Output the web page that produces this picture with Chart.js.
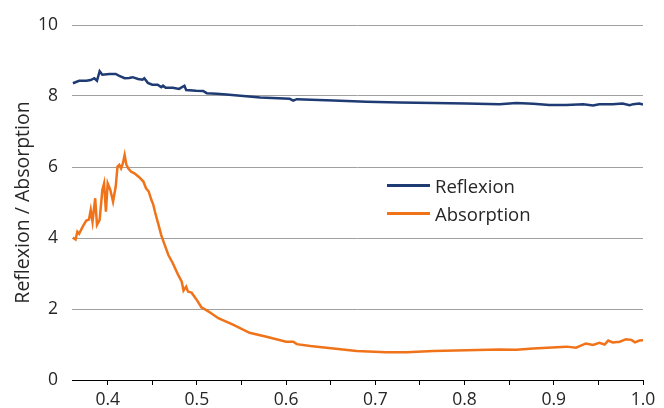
<!DOCTYPE html>
<html><head><meta charset="utf-8">
<script src="https://cdn.jsdelivr.net/npm/chart.js@4/dist/chart.umd.min.js"></script>
<style>
html,body{margin:0;padding:0;background:#fff;}
#wrap{position:relative;width:664px;height:408px;}
#legend{position:absolute;left:387px;top:171px;font-family:"Open Sans",sans-serif;font-size:18.5px;color:#262626;}
.item{display:flex;align-items:center;height:28px;white-space:nowrap;}
.sw{width:43px;height:3px;margin-right:5px;}
</style></head><body>
<div id="wrap"><canvas id="c" width="664" height="408"></canvas>
<div id="legend"></div></div>
<script>
const seriesNames = ["Reflexion", "Absorption"];
const seriesColors = ["#1f3b73", "#f0731a"];
const xTickValues = [0.4,0.45,0.5,0.55,0.6,0.65,0.7,0.75,0.8,0.85,0.9,0.95,1.0];
const yAxisTitle = "Reflexion / Absorption";

const reflexionX = [0.361,0.368,0.376,0.381,0.385,0.388,0.391,0.394,0.402,0.409,0.413,0.419,0.424,0.428,0.434,0.439,0.441,0.445,0.450,0.456,0.460,0.462,0.465,0.473,0.480,0.486,0.488,0.499,0.507,0.511,0.522,0.533,0.552,0.571,0.578,0.604,0.608,0.612,0.653,0.690,0.727,0.765,0.802,0.839,0.858,0.877,0.895,0.914,0.933,0.944,0.951,0.966,0.977,0.985,0.989,0.996,1.000];
const reflexionY = [8.36,8.43,8.43,8.45,8.50,8.43,8.70,8.60,8.62,8.62,8.57,8.50,8.51,8.53,8.48,8.46,8.50,8.37,8.32,8.32,8.25,8.29,8.23,8.23,8.20,8.29,8.17,8.15,8.14,8.08,8.06,8.04,8.00,7.96,7.95,7.92,7.87,7.91,7.87,7.84,7.82,7.80,7.79,7.77,7.80,7.78,7.75,7.75,7.77,7.73,7.77,7.77,7.79,7.74,7.77,7.79,7.76];

const absorptionX = [0.361,0.364,0.366,0.368,0.372,0.376,0.379,0.381,0.383,0.386,0.388,0.391,0.394,0.396,0.398,0.400,0.403,0.406,0.409,0.411,0.413,0.415,0.417,0.419,0.421,0.423,0.426,0.430,0.435,0.440,0.443,0.446,0.449,0.451,0.453,0.455,0.457,0.460,0.464,0.468,0.473,0.479,0.483,0.485,0.488,0.490,0.494,0.500,0.505,0.511,0.516,0.524,0.541,0.559,0.578,0.600,0.608,0.612,0.627,0.653,0.679,0.712,0.735,0.765,0.802,0.839,0.858,0.877,0.914,0.925,0.936,0.944,0.951,0.957,0.961,0.966,0.974,0.981,0.987,0.991,0.996,1.000];
const absorptionY = [4.01,3.96,4.18,4.12,4.32,4.49,4.52,4.79,4.46,5.12,4.37,4.51,5.35,5.54,4.74,5.54,5.35,5.02,5.45,6.01,6.06,5.96,6.10,6.34,6.06,5.96,5.87,5.82,5.72,5.59,5.40,5.31,5.07,4.95,4.74,4.55,4.37,4.08,3.80,3.52,3.29,2.96,2.77,2.52,2.63,2.49,2.46,2.25,2.05,1.96,1.88,1.74,1.55,1.33,1.22,1.08,1.08,1.01,0.96,0.89,0.82,0.78,0.78,0.82,0.84,0.86,0.85,0.89,0.94,0.91,1.03,0.99,1.05,1.00,1.11,1.06,1.08,1.15,1.13,1.06,1.11,1.12];

const toPts = (xs, ys) => xs.map((x, i) => ({x: x, y: ys[i]}));
const TICKFONT = {family: "'Open Sans', sans-serif", size: 17.5};
const TITLEFONT = {family: "'Open Sans', sans-serif", size: 19.5};

// HTML legend
const lg = document.getElementById('legend');
seriesNames.forEach((n, i) => {
  const d = document.createElement('div'); d.className = 'item';
  const s = document.createElement('span'); s.className = 'sw'; s.style.background = seriesColors[i];
  const t = document.createElement('span'); t.textContent = n;
  d.appendChild(s); d.appendChild(t); lg.appendChild(d);
});

new Chart(document.getElementById('c'), {
  type: 'line',
  data: {
    datasets: [
      {label: seriesNames[0], data: toPts(reflexionX, reflexionY), borderColor: seriesColors[0], borderWidth: 2.5, pointRadius: 0, tension: 0, fill: false},
      {label: seriesNames[1], data: toPts(absorptionX, absorptionY), borderColor: seriesColors[1], borderWidth: 2.5, pointRadius: 0, tension: 0, fill: false}
    ]
  },
  options: {
    responsive: false,
    devicePixelRatio: 1,
    animation: false,
    layout: {padding: {top: 25, right: 21, left: 0, bottom: 0}},
    plugins: {legend: {display: false}, tooltip: {enabled: false}},
    scales: {
      x: {
        type: 'linear', min: 0.36, max: 1.0,
        afterBuildTicks: s => { s.ticks = xTickValues.map(v => ({value: v})); },
        afterFit: s => { s.height = 28; },
        ticks: {
          font: TICKFONT, color: '#262626', padding: 5, maxRotation: 0, autoSkip: false,
          callback: v => (Math.abs(v * 10 - Math.round(v * 10)) < 1e-6 ? Number(v).toFixed(1) : '')
        },
        grid: {drawOnChartArea: false, drawTicks: true, tickLength: 5, color: '#000'},
        border: {display: true, color: '#000', width: 1}
      },
      y: {
        min: 0, max: 10,
        afterFit: s => { s.width = 72; },
        ticks: {stepSize: 2, font: TICKFONT, color: '#262626', padding: 14},
        grid: {color: '#a0a0a0', lineWidth: 1, drawTicks: false},
        border: {display: false},
        title: {display: true, text: yAxisTitle, font: TITLEFONT, color: '#262626', padding: {top: 12, bottom: 0}}
      }
    }
  }
});
</script>
</body></html>
